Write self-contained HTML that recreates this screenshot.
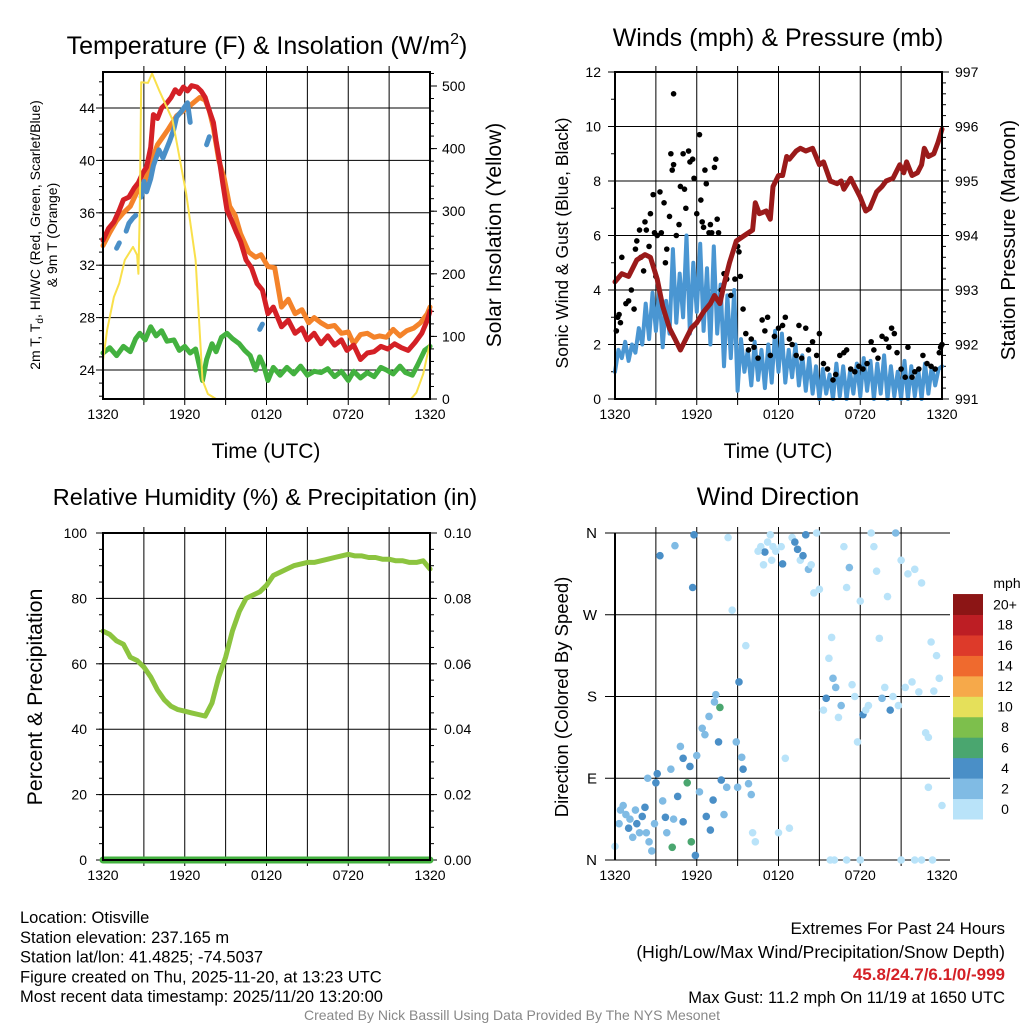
<!DOCTYPE html>
<html><head><meta charset="utf-8">
<style>
html,body{margin:0;padding:0;background:#fff;}
svg{display:block;font-family:"Liberation Sans",sans-serif;}
</style></head>
<body>
<svg id="c" width="1024" height="1024" viewBox="0 0 1024 1024" xmlns="http://www.w3.org/2000/svg"></svg>
<script>
// ---------- DATA ----------
const timeLabels = ["1320","1920","0120","0720","1320"];
const redT = [0,0.4,0.8,1.2,1.5,1.9,2.3,2.6,2.9,3.2,3.5,3.7,4.0,4.3,4.7,5.0,5.3,5.6,5.9,6.2,6.5,6.9,7.2,7.5,7.8,8.1,8.3,8.5,8.8,9.1,9.4,9.8,10.1,10.5,10.9,11.3,11.7,12.1,12.5,13.1,13.6,14.1,14.6,15.0,15.5,16.0,16.5,17.0,17.5,17.9,18.4,18.9,19.4,19.9,20.4,20.9,21.4,21.9,22.4,22.9,23.4,23.8,24.0];
const redV = [33.9,34.8,35.3,36.2,37,37.2,37.9,38.3,39,39.5,41,43.5,43.2,44,44.4,44.8,45.4,45.1,45.6,45.3,45.7,45.6,45.3,44.8,43.8,42.9,41.5,40.3,38.2,36.2,35.5,34.5,33.8,32.4,31.8,30.6,30.1,28.3,28.8,27.3,27.8,26.8,27.2,26.3,26.8,26,26.6,25.9,26.3,25.5,25.9,24.8,25.3,25.4,25.8,25.6,26,25.7,25.5,26.1,26.8,27.8,28.5];
const orgT = [0,0.5,1.0,1.5,2.0,2.5,3.0,3.5,4.0,4.4,4.8,5.4,5.9,6.4,7.1,7.5,7.8,8.1,8.5,8.9,9.3,9.7,10.1,10.7,11.2,11.6,12.1,12.6,13.1,13.6,14.1,14.6,15.1,15.5,16.0,16.5,17.0,17.5,18.0,18.4,18.9,19.4,19.9,20.3,20.8,21.3,21.8,22.3,22.8,23.3,23.8,24.0];
const orgV = [33.5,34.5,35.4,36,36.5,37.6,38.2,39.8,41.2,41.8,42.4,43.4,43.8,44.2,44.8,44.6,43.8,42.5,40,38.6,36.5,35.8,34.4,33,32.6,32.8,31.9,31.8,28.8,29.4,28.3,28.6,27.6,28,27.6,27.3,27.4,26.8,26.9,26,26.7,26.8,26.5,26.6,26.5,27.1,26.6,27,27.2,27.6,28.3,28.8];
const hiT = [1.0,1.2,null,1.7,1.9,2.2,2.4,null,2.8,3.0,3.2,3.5,3.7,4.1,4.4,4.9,5.2,5.4,5.8,6.2,6.4,null,7.6,7.8,null,11.5,11.7];
const hiV = [33.3,33.7,null,34.6,35.2,35.6,35.8,null,37.2,38.4,37.6,38.6,39.6,40.8,40.2,41.5,42.4,43.3,43.8,44.4,42.9,null,41.2,41.8,null,27.1,27.5];
const dewT = [0,0.5,1.0,1.5,2.0,2.4,2.7,3.1,3.5,3.9,4.3,4.7,5.2,5.6,6.0,6.4,6.8,7.1,7.3,7.6,8.0,8.3,8.7,9.1,9.5,10.0,10.4,10.8,11.2,11.5,11.8,12.1,12.5,13.0,13.5,14.0,14.5,15.0,15.5,16.0,16.5,17.0,17.5,18.0,18.4,18.9,19.4,19.9,20.4,20.8,21.3,21.8,22.2,22.7,23.1,23.6,24.0];
const dewV = [25.3,25.7,25.1,25.8,25.4,26.4,26.8,26.3,27.3,26.6,27,26.2,26.3,25.5,25.8,25.3,25.6,24.2,23.2,24.8,26,25.4,26.5,26.8,26.4,26,25.5,25.1,24,25,24.3,23.2,24.2,23.6,24.2,23.7,24.3,23.6,23.9,23.8,24.1,23.5,23.9,23.2,23.9,23.4,23.8,23.5,24.2,24,23.7,24.3,23.8,23.6,24.4,25.5,25.8];
const solarT = [0,0.3,0.8,1.2,1.6,2.2,2.5,2.6,2.7,2.8,3.3,3.6,4.1,5.1,6.1,6.8,7.3,7.7,8.3,22.6,23.0,23.5,24];
const solarV = [62,110,163,185,222,243,230,200,302,506,505,520,494,446,329,222,30,8,0,0,10,40,90];
const rh = [70,69,67,66,62,61,59,56,52,49,47,46,45.5,45,44.5,44,48,56,62,70,76,80,81,82,84,87,88,89,90,90.5,91,91,91.5,92,92.5,93,93.5,93,93,92.5,92.5,92,92,91.5,91.5,91,91,91.5,89];
const windSpd = [1.0,1.8,1.5,2.1,1.4,2.0,1.7,2.6,2.0,3.5,2.2,3.9,2.5,4.0,1.9,3.6,2.4,5.5,2.8,4.6,3.0,6.0,2.4,5.0,3.2,5.7,2.5,4.8,2.0,5.6,2.4,4.2,1.2,3.8,1.5,4.0,0.3,2.2,1.0,1.8,0.5,2.1,0.7,1.8,0.4,2.0,0.6,2.5,1.0,2.4,0.6,1.8,0.8,2.0,0.5,1.6,0.3,1.5,0.2,1.2,0.0,1.1,0.2,0.9,0,1.3,0.1,1.2,0,1.0,0.2,1.3,0.1,1.5,0.3,1.4,0,1.3,0.2,1.6,0,1.2,0.1,1.0,0,1.4,0,1.2,0.1,1.1,0,1.3,0.2,1.2,0.5,1.1,1.2];
const gustT = [0.1,0.2,0.3,0.5,0.4,0.8,1.0,1.2,1.4,1.5,1.6,1.8,1.9,2.1,2.2,2.3,2.5,2.6,2.8,2.9,3.0,3.1,3.3,3.4,3.6,3.7,3.8,4.0,4.1,4.2,4.3,4.3,4.5,4.7,4.8,5.0,5.1,5.2,5.4,5.5,5.7,5.8,6.0,6.2,6.3,6.4,6.5,6.6,6.7,6.9,7.0,7.1,7.3,7.4,7.5,7.6,7.8,8.0,8.2,8.5,8.8,9.0,9.1,9.2,9.4,9.6,9.8,10.0,10.2,10.5,10.8,11.0,11.2,11.4,11.7,12.0,12.3,12.5,12.8,13.0,13.3,13.5,13.7,14.0,14.2,14.5,14.8,15.0,15.3,15.6,16.0,16.2,16.5,16.8,17.0,17.3,17.6,17.9,18.2,18.5,18.8,19.0,19.3,19.6,19.9,20.1,20.3,20.5,20.7,21.0,21.3,21.5,21.8,22.0,22.3,22.6,22.9,23.2,23.5,23.8,24.0,23.9];
const gustV = [2.5,3.0,3.1,5.2,2.8,3.5,3.6,4.0,3.3,5.5,5.8,6.2,5.2,4.7,6.5,6.2,5.6,6.8,7.5,6.1,4.5,6.0,7.6,6.1,7.2,5.0,5.5,6.7,9.0,8.4,8.6,11.2,6.0,6.4,7.8,9.0,7.7,7.0,9.1,8.7,8.8,8.1,6.8,9.7,7.3,6.5,6.3,8.4,7.9,6.1,6.4,6.1,8.5,8.8,6.6,6.1,4.0,4.6,4.4,3.8,4.4,5.6,5.4,4.5,3.3,2.4,1.8,2.2,1.9,1.5,2.9,2.5,3.0,1.6,2.3,2.6,2.7,3.0,2.2,2.0,1.6,2.7,1.5,2.6,1.8,2.1,1.6,2.4,1.3,1.1,0.7,0.9,1.6,1.7,1.8,1.1,1.0,1.2,1.1,1.3,2.1,1.8,1.5,2.3,2.2,1.9,2.6,2.4,1.7,1.1,0.8,1.9,0.8,1.0,1.1,1.6,1.3,1.2,1.1,1.7,2.0,1.9];
const presT = [0,0.5,1.0,1.6,2.2,2.6,3.1,3.5,4.0,4.4,4.8,5.2,5.6,6.0,6.5,7.0,7.3,7.7,8.0,8.4,8.9,9.5,10.1,10.3,10.6,11.1,11.4,11.6,12.0,12.3,12.6,12.8,13.3,13.6,14.0,14.5,15.0,15.3,15.8,16.3,16.6,16.8,17.3,17.6,18.0,18.4,18.7,19.2,19.6,19.9,20.4,20.9,21.2,21.4,21.8,22.2,22.5,22.7,23.0,23.4,23.7,24];
const presV = [993.15,993.3,993.25,993.55,993.65,993.6,993.2,992.7,992.3,992.1,991.9,992.1,992.3,992.4,992.6,992.75,992.9,992.75,993.1,993.5,993.9,994.0,994.1,994.6,994.4,994.45,994.3,994.9,995.1,995.1,995.45,995.4,995.55,995.6,995.55,995.6,995.3,995.35,995.0,994.95,995.0,994.85,995.05,994.9,994.7,994.45,994.5,994.8,994.9,995.0,995.05,995.3,995.15,995.35,995.1,995.15,995.3,995.6,995.45,995.5,995.7,995.95];
const dirT = [0.0,0.3,0.4,0.6,0.8,1.0,1.1,1.3,1.5,1.6,1.8,2.0,2.2,2.3,2.5,2.4,2.7,2.9,3.0,3.1,3.3,3.5,3.7,3.8,4.1,4.2,4.3,4.4,4.6,4.8,5.0,5.0,5.3,5.5,5.6,5.7,5.8,5.9,6.0,6.2,6.4,6.6,6.7,6.9,7.0,7.2,7.3,7.4,7.6,7.7,7.8,8.0,8.2,8.3,8.6,8.9,9.0,9.1,9.3,9.4,9.6,9.8,10.0,10.1,10.3,10.7,10.9,11.0,11.2,11.4,11.6,11.8,12.0,12.3,12.5,12.8,13.0,13.2,13.4,13.6,13.8,14.0,14.2,14.4,14.6,14.8,15.0,15.3,15.5,15.7,15.9,16.0,16.2,16.4,16.6,16.8,17.0,17.2,17.4,17.6,17.8,18.0,18.2,18.4,18.6,18.8,19.0,19.2,19.4,19.6,19.8,20.0,20.2,20.4,20.6,20.8,21.0,21.3,21.5,21.8,22.0,22.3,22.5,22.8,23.0,23.2,23.4,23.6,23.8,24.0,15.8,16.1,17.0,18.0,21.0,22.0,22.5,23.3,23.0,10.5,11.5,12.2];
const dirD = [15,40,55,60,50,35,45,25,55,40,30,48,58,30,20,90,10,40,85,95,335,65,47,30,100,14,45,346,70,125,112,42,85,103,20,300,358,5,115,75,145,138,48,158,33,66,174,182,130,168,88,50,80,355,275,130,80,196,113,100,236,84,72,30,20,345,325,339,350,358,345,340,30,326,112,35,355,350,342,330,335,358,320,325,294,360,298,165,178,222,245,200,190,157,170,345,300,322,193,180,130,285,160,165,170,360,345,318,244,178,190,290,165,180,360,170,330,190,315,196,320,185,305,140,135,240,186,225,200,60,0,0,0,0,0,0,0,0,80,340,330,345];
const dirS = [1,3,3,3,3,5,3,3,3,5,3,5,5,3,3,3,3,3,5,5,5,3,5,3,3,7,3,3,5,3,5,5,7,5,7,5,5,5,3,3,3,3,5,3,5,5,3,3,5,7,5,3,3,1,1,3,3,5,3,5,1,3,3,1,1,1,1,5,1,1,1,1,1,5,1,1,1,5,5,1,5,5,3,1,1,1,1,1,5,1,1,3,3,1,3,1,1,3,1,1,1,1,5,1,1,1,1,1,1,3,1,1,5,1,3,1,1,1,1,1,1,1,1,1,1,1,1,1,1,1,1,1,1,1,1,1,1,1,1,1,1,1];
const cbLabels = ["0","2","4","6","8","10","12","14","16","18","20+"];
const cbColors = ["#b9e3f9","#80bbe4","#4a8fc7","#4aa66f","#7dbf4c","#e5e05a","#f6a94a","#ef6a2e","#dd3a2a","#bd1e24","#8c1515"];

// ---------- HELPERS ----------
const S = document.getElementById('c');
const NS = "http://www.w3.org/2000/svg";
function mk(tag, attrs, parent){const e=document.createElementNS(NS,tag);for(const k in attrs)e.setAttribute(k,attrs[k]);(parent||S).appendChild(e);return e;}
function txt(x,y,s,size,anchor,extra){const e=mk('text',Object.assign({x:x,y:y,'font-size':size,'text-anchor':anchor||'middle',fill:'#000'},extra||{}));e.textContent=s;return e;}

function panel(name,x0,x1,y0,y1){
  const g=mk('g',{});
  
  
  const xs=t=>x0+t*(x1-x0)/24;
  for(let i=1;i<8;i++){const x=xs(i*3);const l=mk('line',{x1:x,x2:x,y1:y0-6,y2:y1+6,stroke:'#000','stroke-width':1},g);}
  for(let i=0;i<5;i++){const t=txt(xs(i*6),y1+20,timeLabels[i],14,'middle');}
  return {g,xs};
}
function hgrid(g,x0,x1,y,len){mk('line',{x1:x0-len,x2:x1+len,y1:y,y2:y,stroke:'#000','stroke-width':1},g);}
function frame(g,x0,x1,y0,y1){mk('rect',{x:x0,y:y0,width:x1-x0,height:y1-y0,fill:'none',stroke:'#000','stroke-width':2},g);}
function path(g,pts,color,w,name){
  let d='';let pen=false;
  for(const p of pts){if(p[0]===null||p[1]===null||p[1]===undefined){pen=false;continue;}d+=(pen?'L':'M')+p[0].toFixed(1)+' '+p[1].toFixed(1);pen=true;}
  const e=mk('path',{d:d,fill:'none',stroke:color,'stroke-width':w,'stroke-linejoin':'round','stroke-linecap':'round'},g);
  
  
  return e;
}

// ---------- PANEL 1 TEMPERATURE ----------
(function(){
  const x0=103,x1=430,y0=72,y1=399;
  const P=panel('temperature-panel',x0,x1,y0,y1);const g=P.g,xs=P.xs;
  const yT=v=>370-(v-24)*13.1;
  const yS=v=>399-v*0.626;
  [24,28,32,36,40,44].forEach(v=>{hgrid(g,x0,x1,yT(v),0);const t=txt(x0-8,yT(v)+5,String(v),14,'end');mk('line',{x1:x0-7,x2:x0,y1:yT(v),y2:yT(v),stroke:'#000'},g);});
  for(let v=22;v<=46;v+=1)mk('line',{x1:x0-4,x2:x0,y1:yT(v),y2:yT(v),stroke:'#000'},g);
  [0,100,200,300,400,500].forEach(v=>{const t=txt(x1+12,yS(v)+5,String(v),14,'start');mk('line',{x1:x1,x2:x1+7,y1:yS(v),y2:yS(v),stroke:'#000'},g);});
  for(let v=20;v<=520;v+=20)mk('line',{x1:x1,x2:x1+4,y1:yS(v),y2:yS(v),stroke:'#000'},g);
  path(g,dewT.map((t,i)=>[xs(t),yT(dewV[i])]),'#43b13f',5,'dewpoint-line');
  path(g,orgT.map((t,i)=>[xs(t),yT(orgV[i])]),'#f4832a',5,'temp-9m-line');
  path(g,redT.map((t,i)=>[xs(t),yT(redV[i])]),'#d42026',5,'temp-2m-line');
  path(g,hiT.map((t,i)=>[t===null?null:xs(t),hiV[i]===null?null:yT(hiV[i])]),'#4a8fc7',5,'heat-index-windchill-line');
  path(g,solarT.map((t,i)=>[xs(t),yS(solarV[i])]),'#f9e04b',2,'solar-insolation-line');
  frame(g,x0,x1,y0,y1);
  const t1=txt(267,54,'',25,'middle');t1.innerHTML='Temperature (F) &amp; Insolation (W/m<tspan dy="-10" font-size="16">2</tspan><tspan dy="10">)</tspan>';
  const t2=txt(266,458,'Time (UTC)',21);
  const a=txt(0,0,'',14,'middle',{transform:'translate(40,235) rotate(-90)'});a.innerHTML='2m T, T<tspan dy="3" font-size="10">d</tspan><tspan dy="-3">, HI/WC (Red, Green, Scarlet/Blue)</tspan>';
  const b=txt(0,0,'& 9m T (Orange)',14,'middle',{transform:'translate(57,235) rotate(-90)'});
  const c=txt(0,0,'Solar Insolation (Yellow)',21,'middle',{transform:'translate(501,235) rotate(-90)'});
})();

// ---------- PANEL 2 WINDS ----------
(function(){
  const x0=615,x1=942,y0=72,y1=399;
  const P=panel('winds-panel',x0,x1,y0,y1);const g=P.g,xs=P.xs;
  const yW=v=>399-v*27.25;
  const yP=v=>399-(v-991)*54.5;
  [0,2,4,6,8,10,12].forEach(v=>{hgrid(g,x0,x1,yW(v),0);const t=txt(x0-14,yW(v)+5,String(v),14,'end');mk('line',{x1:x0-7,x2:x0,y1:yW(v),y2:yW(v),stroke:'#000'},g);});
  for(let v=0;v<=12;v+=1)mk('line',{x1:x0-4,x2:x0,y1:yW(v),y2:yW(v),stroke:'#000'},g);
  [991,992,993,994,995,996,997].forEach(v=>{const t=txt(x1+13,yP(v)+5,String(v),14,'start');mk('line',{x1:x1,x2:x1+7,y1:yP(v),y2:yP(v),stroke:'#000'},g);});
  for(let v=991;v<=997.01;v+=0.2)mk('line',{x1:x1,x2:x1+4,y1:yP(v),y2:yP(v),stroke:'#000'},g);
  path(g,windSpd.map((v,i)=>[xs(i*0.25),yW(v)]),'#4a96d2',4,'sustained-wind-line');
  gustT.forEach((t,i)=>{const c=mk('circle',{cx:xs(t),cy:yW(gustV[i]),r:2.8,fill:'#000'},g);});
  path(g,presT.map((t,i)=>[xs(t),yP(presV[i])]),'#9a1a1a',5,'pressure-line');
  frame(g,x0,x1,y0,y1);
  const t1=txt(778,46,'Winds (mph) & Pressure (mb)',25);
  const t2=txt(778,458,'Time (UTC)',21);
  const a=txt(0,0,'Sonic Wind & Gust (Blue, Black)',17.5,'middle',{transform:'translate(568,243) rotate(-90)'});
  const b=txt(0,0,'Station Pressure (Maroon)',20.5,'middle',{transform:'translate(1015,240) rotate(-90)'});
})();

// ---------- PANEL 3 RH ----------
(function(){
  const x0=103,x1=430,y0=533,y1=860;
  const P=panel('humidity-panel',x0,x1,y0,y1);const g=P.g,xs=P.xs;
  const yR=v=>860-v*3.27;
  [0,20,40,60,80,100].forEach((v,i)=>{hgrid(g,x0,x1,yR(v),0);const t=txt(x0-16,yR(v)+5,String(v),14,'end');mk('line',{x1:x0-7,x2:x0,y1:yR(v),y2:yR(v),stroke:'#000'},g);mk('line',{x1:x1,x2:x1+7,y1:yR(v),y2:yR(v),stroke:'#000'},g);const r=txt(x1+14,yR(v)+5,(i*0.02).toFixed(2),14,'start');});
  for(let v=0;v<=100;v+=5){mk('line',{x1:x0-4,x2:x0,y1:yR(v),y2:yR(v),stroke:'#000'},g);mk('line',{x1:x1,x2:x1+4,y1:yR(v),y2:yR(v),stroke:'#000'},g);}
  path(g,rh.map((v,i)=>[xs(i*0.5),yR(v)]),'#8cc43f',5,'relative-humidity-line');
  path(g,[[xs(0),yR(0)],[xs(24),yR(0)]],'#43b13f',7,'precipitation-line');
  frame(g,x0,x1,y0,y1);
  const t1=txt(265,505,'Relative Humidity (%) & Precipitation (in)',23.5);
  const a=txt(0,0,'Percent & Precipitation',21.3,'middle',{transform:'translate(42,697) rotate(-90)'});
})();

// ---------- PANEL 4 WIND DIRECTION ----------
(function(){
  const x0=615,x1=942,y0=533,y1=860;
  const P=panel('wind-direction-panel',x0,x1,y0,y1);const g=P.g,xs=P.xs;
  const yD=v=>860-v*327/360;
  const labs=['N','E','S','W','N'];
  [0,90,180,270,360].forEach((v,i)=>{mk('line',{x1:x0-10,x2:x1+8,y1:yD(v),y2:yD(v),stroke:'#000'},g);const t=txt(x0-18,yD(v)+5,labs[i],15,'end');});
  const col=s=>cbColors[Math.min(10,Math.floor(s/2))];
  dirT.forEach((t,i)=>{const c=mk('circle',{cx:xs(t),cy:yD(dirD[i]),r:3.8,fill:col(dirS[i])},g);});
  mk('line',{x1:x0,x2:x0,y1:y0,y2:y1,stroke:'#000','stroke-width':2},g);
  const t1=txt(778,505,'Wind Direction',25);
  const a=txt(0,0,'Direction (Colored By Speed)',18.5,'middle',{transform:'translate(568,697) rotate(-90)'});
  const cb=mk('g',{});
  const h=20.45;
  cbColors.forEach((c,i)=>{const y=819-(i+1)*h;const r=mk('rect',{x:953,y:y,width:30,height:h+0.5,fill:c},cb);const t=txt(1005,y+h/2+5,cbLabels[i],14,'middle');});
  const m=txt(1007,588,'mph',14,'middle');
})();

// ---------- FOOTER TEXT ----------
(function(){
  const left=['Location: Otisville','Station elevation: 237.165 m','Station lat/lon: 41.4825; -74.5037','Figure created on Thu, 2025-11-20, at 13:23 UTC','Most recent data timestamp: 2025/11/20 13:20:00'];
  left.forEach((s,i)=>{const t=txt(20,923+i*19.8,s,16.5,'start',{textLength:0});t.removeAttribute('textLength');});
  const r1=txt(1005,934,'Extremes For Past 24 Hours',17,'end');
  const r2=txt(1005,958,'(High/Low/Max Wind/Precipitation/Snow Depth)',17.5,'end');
  const r3=txt(1005,980,'45.8/24.7/6.1/0/-999',17,'end',{fill:'#d42026','font-weight':'bold'});
  const r4=txt(1005,1003,'Max Gust: 11.2 mph On 11/19 at 1650 UTC',16.5,'end');
  const f=txt(512,1020,'Created By Nick Bassill Using Data Provided By The NYS Mesonet',14,'middle',{fill:'#888'});
})();
</script>
</body></html>
